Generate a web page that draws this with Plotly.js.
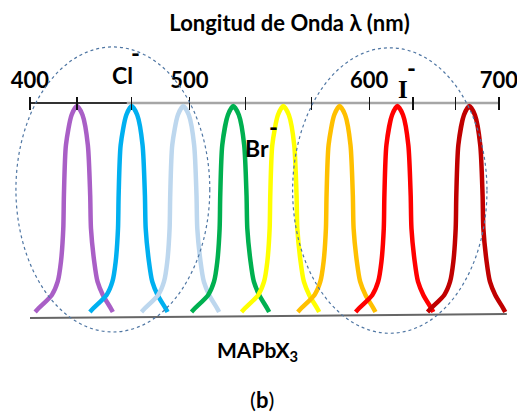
<!DOCTYPE html>
<html>
<head>
<meta charset="utf-8">
<script src="https://cdn.plot.ly/plotly-3.0.1.min.js"></script>
<style>
  html, body { margin: 0; padding: 0; background: #fff; }
  #chart { width: 517px; height: 412px; }
</style>
</head>
<body>
<div id="chart"></div>
<script>
// Emission bands of MAPbX3 perovskites (X = Cl, Br, I), schematic spectrum.
const bandNames = ['violeta', 'azul', 'celeste', 'verde', 'amarillo', 'naranja', 'rojo', 'granate'];
const peakWavelength = [430, 465, 498, 530, 562, 598, 635, 681];   // nm
const bandColors = ['#a95fc6', '#00b0f0', '#bdd7ee', '#00b050', '#ffff00', '#ffc000', '#ff0000', '#c00000'];

// Normalised band profile: offset from the peak (nm) and relative intensity.
const profileOffset = [-26.7, -24.5, -16.0, -12.3, -10.2, -8.7, -8.3, -7.0, -3.4, 0, 3.6, 7.0, 8.5, 9.0, 11.1, 13.2, 16.6, 21.7, 23.0];
const profileLevel  = [0, 0.018, 0.083, 0.147, 0.244, 0.406, 0.568, 0.811, 0.956, 1, 0.956, 0.811, 0.568, 0.406, 0.244, 0.147, 0.083, 0.018, 0];

// Wavelength scale along the top.
const tickWavelength = [400, 430, 465, 502, 538, 580, 617, 645, 672, 700];
const tickLabels = ['400', '', '', '500', '', '', '600', '', '', '700'];

// Halide labels.
const halideNames = ['Cl', 'Br', 'I'];
const halideWavelength = [459, 545.5, 638.5];

// Groups circled on the spectrum (Cl and I regions), nm.
const groupStart = [391, 568];
const groupEnd = [515, 692.3];

const FONT = 'Lato, "Open Sans", sans-serif';
const SERIF = '"Liberation Serif", "DejaVu Serif", serif';

const traces = peakWavelength.map((peak, i) => ({
  type: 'scatter',
  mode: 'lines',
  name: bandNames[i],
  x: profileOffset.map(o => peak + o),
  y: profileLevel,
  line: { color: bandColors[i], width: 4.5, shape: 'spline', smoothing: 0.7 },
  hoverinfo: 'skip',
  showlegend: false
}));

const shapes = [
  // top scale line (dark start, grey remainder)
  { type: 'line', xref: 'x', yref: 'paper', x0: 400, x1: 462, y0: 1, y1: 1,
    line: { color: '#333333', width: 2 }, layer: 'below' },
  { type: 'line', xref: 'x', yref: 'paper', x0: 462, x1: 700, y0: 1, y1: 1,
    line: { color: '#a6a6a6', width: 2.5 }, layer: 'below' },
  // baseline
  { type: 'line', xref: 'x', yref: 'paper', x0: 400, x1: 705, y0: -0.005, y1: 0.014,
    line: { color: '#666666', width: 2 }, layer: 'below' }
];
groupStart.forEach((g, i) => {
  shapes.push({
    type: 'circle', xref: 'x', yref: 'paper',
    x0: g, x1: groupEnd[i], y0: i === 0 ? -0.070 : -0.076, y1: i === 0 ? 1.262 : 1.258,
    line: { color: '#4f76a3', width: 1.2, dash: 'dot' }, layer: 'above'
  });
});

const labelY = [1.133, 0.790, 1.065];
const dashY = [1.238, 0.888, 1.164];
const dashShift = [8.5, 10.2, 5.3];
const annotations = [];
halideNames.forEach((h, i) => {
  annotations.push({
    text: h, xref: 'x', yref: 'paper', x: halideWavelength[i], y: labelY[i],
    xanchor: 'center', yanchor: 'middle', showarrow: false,
    font: { family: h === 'I' ? SERIF : FONT, size: h === 'I' ? 25 : 23, weight: 'bold', color: '#000' }
  });
  annotations.push({
    text: '-', xref: 'x', yref: 'paper', x: halideWavelength[i] + dashShift[i], y: dashY[i],
    xanchor: 'center', yanchor: 'middle', showarrow: false,
    font: { family: FONT, size: 24, weight: 'bold', color: '#000' }
  });
});
annotations.push({
  text: 'MAPbX<sub>3</sub>', xref: 'paper', yref: 'paper', x: 0.494, y: -0.16,
  xanchor: 'center', yanchor: 'middle', showarrow: false,
  font: { family: FONT, size: 21, weight: 'bold', color: '#000' }
});
annotations.push({
  text: '(<b>b</b>)', xref: 'paper', yref: 'paper', x: 0.502, y: -0.385,
  xanchor: 'center', yanchor: 'middle', showarrow: false,
  font: { family: FONT, size: 22, color: '#000' }
});

const layout = {
  width: 517,
  height: 412,
  margin: { l: 10, r: 5, t: 103, b: 95 },
  paper_bgcolor: '#ffffff',
  plot_bgcolor: '#ffffff',
  showlegend: false,
  hovermode: false,
  title: {
    text: 'Longitud de Onda λ (nm)',
    xref: 'container', yref: 'container',
    x: 0.56, xanchor: 'center', y: 0.944, yanchor: 'middle',
    font: { family: FONT, size: 22, weight: 'bold', color: '#000' }
  },
  xaxis: {
    range: [387.21, 708.32],
    side: 'top',
    anchor: 'free',
    position: 0.9696,
    showline: false, showgrid: false, zeroline: false,
    ticks: 'outside', ticklen: 13, tickwidth: 1.3, tickcolor: '#111',
    tickmode: 'array', tickvals: tickWavelength, ticktext: tickLabels,
    tickangle: 0,
    ticklabeloverflow: 'allow',
    tickfont: { family: FONT, size: 22, weight: 'bold', color: '#000' }
  },
  yaxis: {
    range: [-0.02427, 1.01456],
    visible: false,
    showgrid: false, zeroline: false
  },
  shapes: shapes,
  annotations: annotations
};

Plotly.newPlot('chart', traces, layout, { staticPlot: true, displayModeBar: false });
</script>
</body>
</html>
